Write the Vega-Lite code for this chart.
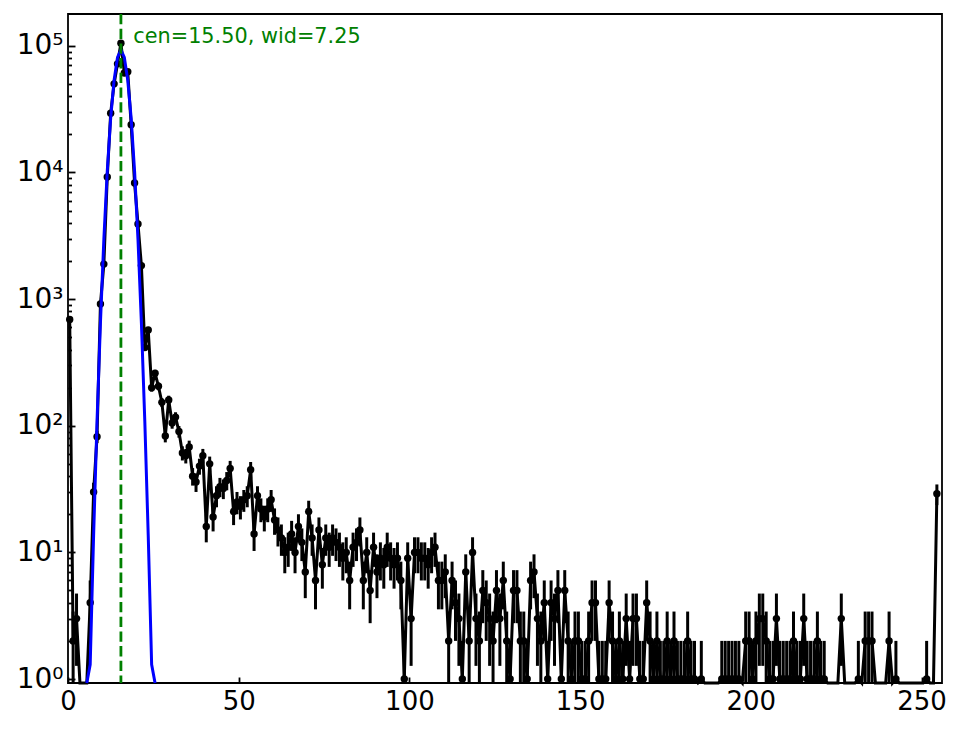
{
  "$schema": "https://vega.github.io/schema/vega-lite/v6.json",
  "width": 874,
  "height": 669,
  "autosize": "none",
  "padding": {"left": 68, "top": 14, "right": 22, "bottom": 46},
  "background": "white",
  "config": {
    "font": "DejaVu Sans",
    "view": {"stroke": "black", "strokeWidth": 1.8},
    "axis": {"domain": false, "grid": false, "labelColor": "black", "tickColor": "black", "labelFont": "DejaVu Sans"}
  },
  "datasets": {
    "hist": [
      {"x":0.5,"y":690,"e":26.27},{"x":1.5,"y":2,"e":1.41},{"x":2.5,"y":3,"e":1.73},{"x":3.5,"y":0,"e":0},
      {"x":4.5,"y":0,"e":0},{"x":5.5,"y":0,"e":0},{"x":6.5,"y":4,"e":2},{"x":7.5,"y":30,"e":5.48},
      {"x":8.5,"y":82,"e":9.06},{"x":9.5,"y":915,"e":30.25},{"x":10.5,"y":1890,"e":43.47},{"x":11.5,"y":9200,"e":95.92},
      {"x":12.5,"y":29400,"e":171.5},{"x":13.5,"y":50100,"e":223.8},{"x":14.5,"y":72100,"e":268.5},{"x":15.5,"y":105000,"e":324},
      {"x":16.5,"y":61000,"e":247},{"x":17.5,"y":62400,"e":249.8},{"x":18.5,"y":23800,"e":154.3},{"x":19.5,"y":8250,"e":90.83},
      {"x":20.5,"y":3920,"e":62.61},{"x":21.5,"y":1840,"e":42.9},{"x":22.5,"y":415,"e":20.37},{"x":23.5,"y":570,"e":23.87},
      {"x":24.5,"y":200,"e":14.14},{"x":25.5,"y":260,"e":16.12},{"x":26.5,"y":205,"e":14.32},{"x":27.5,"y":153,"e":12.37},
      {"x":28.5,"y":83,"e":9.11},{"x":29.5,"y":160,"e":12.65},{"x":30.5,"y":105,"e":10.25},{"x":31.5,"y":117,"e":10.82},
      {"x":32.5,"y":90,"e":9.49},{"x":33.5,"y":61,"e":7.81},{"x":34.5,"y":58,"e":7.62},{"x":35.5,"y":68,"e":8.25},
      {"x":36.5,"y":40,"e":6.32},{"x":37.5,"y":36,"e":6},{"x":38.5,"y":48,"e":6.93},{"x":39.5,"y":58,"e":7.62},
      {"x":40.5,"y":16,"e":4},{"x":41.5,"y":50,"e":7.07},{"x":42.5,"y":19,"e":4.36},{"x":43.5,"y":28,"e":5.29},
      {"x":44.5,"y":33,"e":5.74},{"x":45.5,"y":32,"e":5.66},{"x":46.5,"y":37,"e":6.08},{"x":47.5,"y":46,"e":6.78},
      {"x":48.5,"y":21,"e":4.58},{"x":49.5,"y":25,"e":5},{"x":50.5,"y":23,"e":4.8},{"x":51.5,"y":26,"e":5.1},
      {"x":52.5,"y":28,"e":5.29},{"x":53.5,"y":45,"e":6.71},{"x":54.5,"y":14,"e":3.74},{"x":55.5,"y":28,"e":5.29},
      {"x":56.5,"y":22,"e":4.69},{"x":57.5,"y":19,"e":4.36},{"x":58.5,"y":22,"e":4.69},{"x":59.5,"y":26,"e":5.1},
      {"x":60.5,"y":18,"e":4.24},{"x":61.5,"y":15,"e":3.87},{"x":62.5,"y":13,"e":3.61},{"x":63.5,"y":10,"e":3.16},
      {"x":64.5,"y":11,"e":3.32},{"x":65.5,"y":14,"e":3.74},{"x":66.5,"y":10,"e":3.16},{"x":67.5,"y":16,"e":4},
      {"x":68.5,"y":12,"e":3.46},{"x":69.5,"y":7,"e":2.65},{"x":70.5,"y":21,"e":4.58},{"x":71.5,"y":13,"e":3.61},
      {"x":72.5,"y":6,"e":2.45},{"x":73.5,"y":15,"e":3.87},{"x":74.5,"y":8,"e":2.83},{"x":75.5,"y":13,"e":3.61},
      {"x":76.5,"y":11,"e":3.32},{"x":77.5,"y":13,"e":3.61},{"x":78.5,"y":12,"e":3.46},{"x":79.5,"y":11,"e":3.32},
      {"x":80.5,"y":9,"e":3},{"x":81.5,"y":10,"e":3.16},{"x":82.5,"y":6,"e":2.45},{"x":83.5,"y":11,"e":3.32},
      {"x":84.5,"y":12,"e":3.46},{"x":85.5,"y":15,"e":3.87},{"x":86.5,"y":6,"e":2.45},{"x":87.5,"y":10,"e":3.16},
      {"x":88.5,"y":5,"e":2.24},{"x":89.5,"y":11,"e":3.32},{"x":90.5,"y":7,"e":2.65},{"x":91.5,"y":9,"e":3},
      {"x":92.5,"y":8,"e":2.83},{"x":93.5,"y":11,"e":3.32},{"x":94.5,"y":9,"e":3},{"x":95.5,"y":8,"e":2.83},
      {"x":96.5,"y":9,"e":3},{"x":97.5,"y":6,"e":2.45},{"x":98.5,"y":1,"e":1},{"x":99.5,"y":9,"e":3},
      {"x":100.5,"y":3,"e":1.73},{"x":101.5,"y":10,"e":3.16},{"x":102.5,"y":10,"e":3.16},{"x":103.5,"y":9,"e":3},
      {"x":104.5,"y":9,"e":3},{"x":105.5,"y":8,"e":2.83},{"x":106.5,"y":10,"e":3.16},{"x":107.5,"y":11,"e":3.32},
      {"x":108.5,"y":6,"e":2.45},{"x":109.5,"y":6,"e":2.45},{"x":110.5,"y":7,"e":2.65},{"x":111.5,"y":2,"e":1.41},
      {"x":112.5,"y":6,"e":2.45},{"x":113.5,"y":4,"e":2},{"x":114.5,"y":3,"e":1.73},{"x":115.5,"y":1,"e":1},
      {"x":116.5,"y":7,"e":2.65},{"x":117.5,"y":2,"e":1.41},{"x":118.5,"y":10,"e":3.16},{"x":119.5,"y":3,"e":1.73},
      {"x":120.5,"y":2,"e":1.41},{"x":121.5,"y":5,"e":2.24},{"x":122.5,"y":4,"e":2},{"x":123.5,"y":3,"e":1.73},
      {"x":124.5,"y":2,"e":1.41},{"x":125.5,"y":5,"e":2.24},{"x":126.5,"y":3,"e":1.73},{"x":127.5,"y":6,"e":2.45},
      {"x":128.5,"y":2,"e":1.41},{"x":129.5,"y":1,"e":1},{"x":130.5,"y":5,"e":2.24},{"x":131.5,"y":5,"e":2.24},
      {"x":132.5,"y":2,"e":1.41},{"x":133.5,"y":2,"e":1.41},{"x":134.5,"y":1,"e":1},{"x":135.5,"y":6,"e":2.45},
      {"x":136.5,"y":7,"e":2.65},{"x":137.5,"y":3,"e":1.73},{"x":138.5,"y":2,"e":1.41},{"x":139.5,"y":4,"e":2},
      {"x":140.5,"y":1,"e":1},{"x":141.5,"y":4,"e":2},{"x":142.5,"y":3,"e":1.73},{"x":143.5,"y":5,"e":2.24},
      {"x":144.5,"y":1,"e":1},{"x":145.5,"y":5,"e":2.24},{"x":146.5,"y":2,"e":1.41},{"x":147.5,"y":1,"e":1},
      {"x":148.5,"y":2,"e":1.41},{"x":149.5,"y":2,"e":1.41},{"x":150.5,"y":1,"e":1},{"x":151.5,"y":1,"e":1},
      {"x":152.5,"y":2,"e":1.41},{"x":153.5,"y":4,"e":2},{"x":154.5,"y":4,"e":2},{"x":155.5,"y":1,"e":1},
      {"x":156.5,"y":1,"e":1},{"x":157.5,"y":1,"e":1},{"x":158.5,"y":4,"e":2},{"x":159.5,"y":2,"e":1.41},
      {"x":160.5,"y":1,"e":1},{"x":161.5,"y":2,"e":1.41},{"x":162.5,"y":1,"e":1},{"x":163.5,"y":3,"e":1.73},
      {"x":164.5,"y":1,"e":1},{"x":165.5,"y":3,"e":1.73},{"x":166.5,"y":3,"e":1.73},{"x":167.5,"y":1,"e":1},
      {"x":168.5,"y":1,"e":1},{"x":169.5,"y":4,"e":2},{"x":170.5,"y":2,"e":1.41},{"x":171.5,"y":1,"e":1},
      {"x":172.5,"y":2,"e":1.41},{"x":173.5,"y":1,"e":1},{"x":174.5,"y":1,"e":1},{"x":175.5,"y":2,"e":1.41},
      {"x":176.5,"y":1,"e":1},{"x":177.5,"y":2,"e":1.41},{"x":178.5,"y":1,"e":1},{"x":179.5,"y":1,"e":1},
      {"x":180.5,"y":1,"e":1},{"x":181.5,"y":2,"e":1.41},{"x":182.5,"y":1,"e":1},{"x":183.5,"y":1,"e":1},
      {"x":184.5,"y":0,"e":0},{"x":185.5,"y":1,"e":1},{"x":186.5,"y":0,"e":0},{"x":187.5,"y":0,"e":0},
      {"x":188.5,"y":0,"e":0},{"x":189.5,"y":0,"e":0},{"x":190.5,"y":0,"e":0},{"x":191.5,"y":1,"e":1},
      {"x":192.5,"y":1,"e":1},{"x":193.5,"y":1,"e":1},{"x":194.5,"y":1,"e":1},{"x":195.5,"y":1,"e":1},
      {"x":196.5,"y":1,"e":1},{"x":197.5,"y":0,"e":0},{"x":198.5,"y":2,"e":1.41},{"x":199.5,"y":2,"e":1.41},
      {"x":200.5,"y":1,"e":1},{"x":201.5,"y":2,"e":1.41},{"x":202.5,"y":3,"e":1.73},{"x":203.5,"y":3,"e":1.73},
      {"x":204.5,"y":2,"e":1.41},{"x":205.5,"y":1,"e":1},{"x":206.5,"y":1,"e":1},{"x":207.5,"y":3,"e":1.73},
      {"x":208.5,"y":1,"e":1},{"x":209.5,"y":1,"e":1},{"x":210.5,"y":1,"e":1},{"x":211.5,"y":1,"e":1},
      {"x":212.5,"y":2,"e":1.41},{"x":213.5,"y":1,"e":1},{"x":214.5,"y":1,"e":1},{"x":215.5,"y":3,"e":1.73},
      {"x":216.5,"y":1,"e":1},{"x":217.5,"y":1,"e":1},{"x":218.5,"y":1,"e":1},{"x":219.5,"y":2,"e":1.41},
      {"x":220.5,"y":1,"e":1},{"x":221.5,"y":1,"e":1},{"x":222.5,"y":0,"e":0},{"x":223.5,"y":0,"e":0},
      {"x":224.5,"y":0,"e":0},{"x":225.5,"y":0,"e":0},{"x":226.5,"y":3,"e":1.73},{"x":227.5,"y":0,"e":0},
      {"x":228.5,"y":0,"e":0},{"x":229.5,"y":0,"e":0},{"x":230.5,"y":0,"e":0},{"x":231.5,"y":1,"e":1},
      {"x":232.5,"y":0,"e":0},{"x":233.5,"y":2,"e":1.41},{"x":234.5,"y":2,"e":1.41},{"x":235.5,"y":2,"e":1.41},
      {"x":236.5,"y":0,"e":0},{"x":237.5,"y":0,"e":0},{"x":238.5,"y":0,"e":0},{"x":239.5,"y":0,"e":0},
      {"x":240.5,"y":2,"e":1.41},{"x":241.5,"y":0,"e":0},{"x":242.5,"y":1,"e":1},{"x":243.5,"y":0,"e":0},
      {"x":244.5,"y":0,"e":0},{"x":245.5,"y":0,"e":0},{"x":246.5,"y":0,"e":0},{"x":247.5,"y":0,"e":0},
      {"x":248.5,"y":0,"e":0},{"x":249.5,"y":0,"e":0},{"x":250.5,"y":0,"e":0},{"x":251.5,"y":1,"e":1},
      {"x":252.5,"y":0,"e":0},{"x":253.5,"y":0,"e":0},{"x":254.5,"y":29,"e":5.39}
    ],
    "fit": [
      {"x":5.5,"y":0.095},{"x":6.5,"y":1.3},{"x":7.5,"y":13.6},{"x":8.5,"y":108},{"x":9.5,"y":648},
      {"x":10.5,"y":2960},{"x":11.5,"y":10240},{"x":12.5,"y":26900},{"x":13.5,"y":53500},{"x":14.5,"y":81000},
      {"x":15.5,"y":93000},{"x":16.5,"y":81000},{"x":17.5,"y":53500},{"x":18.5,"y":26900},{"x":19.5,"y":10240},
      {"x":20.5,"y":2960},{"x":21.5,"y":648},{"x":22.5,"y":108},{"x":23.5,"y":13.6},{"x":24.5,"y":1.3},
      {"x":25.5,"y":0.095}
    ],
    "note": [
      {"label": "cen=15.50, wid=7.25", "x": 19.125, "y": 105000}
    ]
  },
  "data": {"name": "hist"},
  "encoding": {
    "x": {
      "field": "x", "type": "quantitative", "title": null,
      "scale": {"domain": [0, 256], "nice": false, "zero": false},
      "axis": {
        "values": [0, 50, 100, 150, 200, 250],
        "labelFontSize": 26, "labelFlush": false, "labelOverlap": false,
        "tickSize": -6, "tickWidth": 1.8, "labelPadding": 11
      }
    },
    "y": {
      "field": "y", "type": "quantitative", "title": null,
      "scale": {"type": "log", "domain": [0.93, 178500], "nice": false, "clamp": true},
      "axis": {
        "values": [1, 2, 3, 4, 5, 6, 7, 8, 9, 10, 20, 30, 40, 50, 60, 70, 80, 90, 100, 200, 300, 400, 500, 600, 700, 800, 900, 1000, 2000, 3000, 4000, 5000, 6000, 7000, 8000, 9000, 10000, 20000, 30000, 40000, 50000, 60000, 70000, 80000, 90000, 100000],
        "labelExpr": "datum.value == 1 ? '10⁰' : datum.value == 10 ? '10¹' : datum.value == 100 ? '10²' : datum.value == 1000 ? '10³' : datum.value == 10000 ? '10⁴' : datum.value == 100000 ? '10⁵' : ''",
        "labelFontSize": 28, "labelOverlap": false, "labelFlush": false, "labelBaseline": "middle",
        "tickWidth": 1.8,
        "tickSize": {"condition": {"test": "indexof([1, 10, 100, 1000, 10000, 100000], datum.value) >= 0", "value": -7}, "value": -3.5},
        "labelPadding": 12
      }
    }
  },
  "layer": [
    {
      "mark": {"type": "errorbar", "color": "black", "thickness": 3, "ticks": false, "rule": {"strokeWidth": 3}},
      "encoding": {"yError": {"field": "e"}}
    },
    {
      "mark": {"type": "line", "color": "black", "strokeWidth": 3}
    },
    {
      "transform": [{"filter": "datum.y > 0"}],
      "mark": {"type": "circle", "color": "black", "opacity": 1, "size": 55}
    },
    {
      "data": {"name": "fit"},
      "mark": {"type": "line", "color": "#0000ff", "strokeWidth": 3}
    },
    {
      "data": {"values": [{"cen": 15.5}]},
      "mark": {"type": "rule", "color": "#008000", "strokeWidth": 2.8, "strokeDash": [10.3, 4.4]},
      "encoding": {"x": {"field": "cen", "type": "quantitative"}, "y": null}
    },
    {
      "data": {"name": "note"},
      "mark": {"type": "text", "color": "#008000", "fontSize": 20.8, "align": "left", "baseline": "alphabetic", "font": "DejaVu Sans"},
      "encoding": {
        "text": {"field": "label", "type": "nominal"}
      }
    }
  ]
}
